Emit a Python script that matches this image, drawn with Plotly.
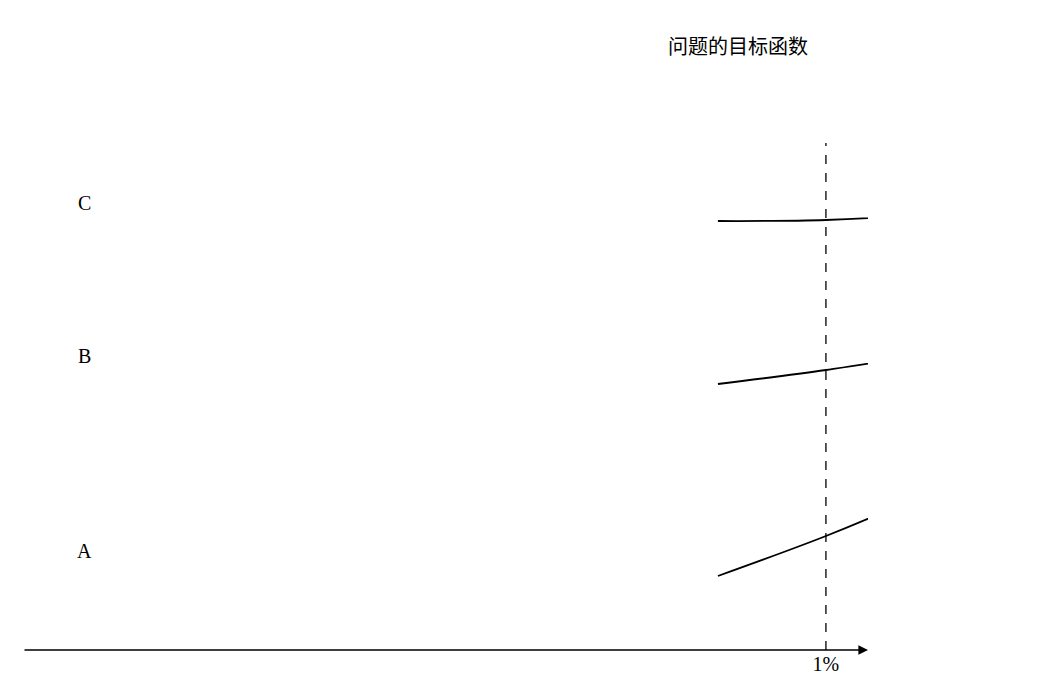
import numpy as np
import plotly.graph_objects as go

# 采样率 (%) 与目标函数值 (示意)
x_c = [0.461, 1, 2.11, 4.99, 10, 20.9, 42.9, 100]
y_c = [429, 430, 436, 449, 465, 485, 499, 504]

x_b = [0.461, 1, 1.70, 2.81, 4.65, 7.14, 11.0, 15.7, 24.2, 42.9, 66.0, 100]
y_b = [266, 280, 292, 309, 329, 350, 377, 414, 450, 482, 497, 504]

x_a = [0.461, 1, 1.70, 3.02, 4.99, 7.67, 11.4, 15.7, 24.2, 37.2, 57.2, 100]
y_a = [74, 114, 145, 182, 220, 259, 300, 344, 400, 450, 482, 504]

labels = ["A", "B", "C"]
label_y = [99, 294, 447]
tick_vals = [1, 10, 100]
tick_text = ["1%", "10%", "100%"]

serif = "Liberation Serif, DejaVu Serif, serif"
cjk = "Noto Sans CJK SC"

# 对数坐标手动换算
lg = np.log10

fig = go.Figure()
for xs, ys in [(x_a, y_a), (x_b, y_b), (x_c, y_c)]:
    fig.add_trace(go.Scatter(x=lg(xs), y=ys, mode="lines", line=dict(color="black", width=1.8, shape="spline"),
                             showlegend=False, hoverinfo="skip"))

# 虚线
for v in [1, 10]:
    fig.add_shape(type="line", x0=lg(v), x1=lg(v), y0=0, y1=507, xref="x", yref="y",
                  line=dict(color="black", width=1.3, dash="dash"))

# 坐标轴 (带箭头)
fig.add_annotation(x=0.131, y=0, ax=-2.5, ay=0, xref="x", yref="y", axref="x", ayref="y",
                   showarrow=True, arrowhead=2, arrowsize=1.2, arrowwidth=1.6, arrowcolor="black", text="")
fig.add_annotation(x=2, y=617, ax=2, ay=0, xref="x", yref="y", axref="x", ayref="y",
                   showarrow=True, arrowhead=2, arrowsize=1.2, arrowwidth=1.6, arrowcolor="black", text="")

for lab, ly in zip(labels, label_y):
    fig.add_annotation(x=-2.31, y=ly, xref="x", yref="y", text=lab, showarrow=False,
                       font=dict(family=serif, size=20, color="black"))

fig.add_annotation(x=-0.05, y=605, xref="x", yref="y", text="问题的目标函数", showarrow=False,
                   xanchor="right", font=dict(family=cjk, size=20, color="black"))
fig.add_annotation(x=0.63, y=0, xref="x", yref="y", text="数据采样率", showarrow=False,
                   xanchor="right", font=dict(family=cjk, size=20, color="black"))

fig.update_layout(
    width=1039, height=700,
    margin=dict(l=15, r=179, t=25, b=58),
    plot_bgcolor="white", paper_bgcolor="white",
    xaxis=dict(range=[-2.5, 0.131], showgrid=False, zeroline=False, showline=False,
               tickvals=lg(tick_vals), ticktext=tick_text, ticks="",
               tickfont=dict(family=serif, size=20, color="black")),
    yaxis=dict(range=[0, 617], visible=False),
)

fig.write_html("out.html")
